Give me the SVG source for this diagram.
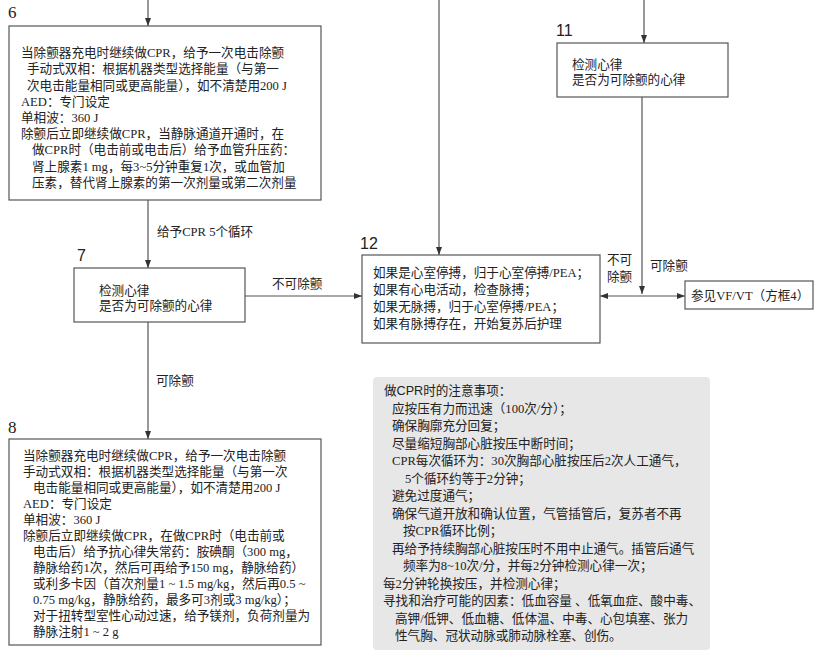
<svg xmlns="http://www.w3.org/2000/svg" width="821" height="661" viewBox="0 0 821 661">
<style>
.box{fill:#fff;stroke:#555;stroke-width:1.2}
.note{fill:#e7e7e7;stroke:none}
.t{font-family:'Liberation Serif','Noto Sans CJK SC',serif;font-size:12.6px;fill:#222}
.s{font-family:'Liberation Sans','Noto Sans CJK SC',sans-serif;font-size:12.6px;fill:#222}
.num{font-family:'Liberation Sans','Noto Sans CJK SC',sans-serif;font-size:16px;fill:#222}
.nums{font-family:'Liberation Serif','Noto Sans CJK SC',serif;font-size:17px;fill:#222}
.c{stroke:#555;stroke-width:1.2;fill:none}
</style>
<defs>
<marker id="ah" viewBox="0 0 8 6" refX="8" refY="3" markerWidth="8" markerHeight="6" markerUnits="userSpaceOnUse" orient="auto-start-reverse">
<path d="M0,0 L8,3 L0,6 Z" fill="#333"/>
</marker>
</defs>
<rect width="821" height="661" fill="#fff"/>
<g id="connectors">
<line class="c" x1="148" y1="0" x2="148" y2="26" marker-end="url(#ah)"/>
<line class="c" x1="148" y1="200" x2="148" y2="268" marker-end="url(#ah)"/>
<line class="c" x1="148" y1="322" x2="148" y2="439" marker-end="url(#ah)"/>
<line class="c" x1="245" y1="296" x2="362" y2="296" marker-end="url(#ah)"/>
<line class="c" x1="439" y1="0" x2="439" y2="255" marker-end="url(#ah)"/>
<line class="c" x1="644" y1="0" x2="644" y2="43" marker-end="url(#ah)"/>
<line class="c" x1="642" y1="97" x2="642" y2="294" marker-end="url(#ah)"/>
<line class="c" x1="600" y1="296" x2="685" y2="296" marker-start="url(#ah)" marker-end="url(#ah)"/>
<text class="t" x="157" y="236">给予CPR 5个循环</text>
<text class="t" x="272" y="288">不可除颤</text>
<text class="t" x="156" y="385">可除颤</text>
<text class="t" x="607" y="264">不可</text>
<text class="t" x="607" y="281">除颤</text>
<text class="t" x="650" y="270">可除颤</text>
</g>
<g id="node6">
<text class="nums" x="8" y="18">6</text>
<rect class="box" x="9" y="26" width="312" height="174"/>
<text class="t" x="21" y="57">当除颤器充电时继续做CPR，给予一次电击除颤</text>
<text class="t" x="27" y="73">手动式双相：根据机器类型选择能量（与第一</text>
<text class="t" x="27" y="90">次电击能量相同或更高能量），如不清楚用200 J</text>
<text class="t" x="21" y="106">AED：专门设定</text>
<text class="t" x="21" y="122">单相波：360 J</text>
<text class="t" x="21" y="138">除颤后立即继续做CPR，当静脉通道开通时，在</text>
<text class="t" x="32" y="154">做CPR时（电击前或电击后）给予血管升压药：</text>
<text class="t" x="32" y="171">肾上腺素1 mg，每3~5分钟重复1次，或血管加</text>
<text class="t" x="32" y="187">压素，替代肾上腺素的第一次剂量或第二次剂量</text>
</g>
<g id="node7">
<text class="num" x="77" y="261">7</text>
<rect class="box" x="74" y="268" width="171" height="54"/>
<text class="t" x="99" y="295">检测心律</text>
<text class="t" x="99" y="310">是否为可除颤的心律</text>
</g>
<g id="node8">
<text class="nums" x="8" y="433">8</text>
<rect class="box" x="9" y="439" width="312" height="206"/>
<text class="t" x="23" y="460">当除颤器充电时继续做CPR，给予一次电击除颤</text>
<text class="t" x="23" y="476">手动式双相：根据机器类型选择能量（与第一次</text>
<text class="t" x="33" y="492">电击能量相同或更高能量），如不清楚用200 J</text>
<text class="t" x="23" y="508">AED：专门设定</text>
<text class="t" x="23" y="524">单相波：360 J</text>
<text class="t" x="23" y="540">除颤后立即继续做CPR，在做CPR时（电击前或</text>
<text class="t" x="33" y="556">电击后）给予抗心律失常药：胺碘酮（300 mg，</text>
<text class="t" x="33" y="572">静脉给药1次，然后可再给予150 mg，静脉给药）</text>
<text class="t" x="33" y="588">或利多卡因（首次剂量1 ~ 1.5 mg/kg，然后再0.5 ~</text>
<text class="t" x="33" y="604">0.75 mg/kg，静脉给药，最多可3剂或3 mg/kg）；</text>
<text class="t" x="33" y="620">对于扭转型室性心动过速，给予镁剂，负荷剂量为</text>
<text class="t" x="33" y="636">静脉注射1 ~ 2 g</text>
</g>
<g id="node11">
<text class="num" x="556" y="36">11</text>
<rect class="box" x="557" y="43" width="171" height="54"/>
<text class="t" x="572" y="69">检测心律</text>
<text class="t" x="572" y="84">是否为可除颤的心律</text>
</g>
<g id="node12">
<text class="num" x="360" y="249">12</text>
<rect class="box" x="362" y="255" width="238" height="88"/>
<text class="t" x="373" y="277">如果是心室停搏，归于心室停搏/PEA；</text>
<text class="t" x="373" y="294">如果有心电活动，检查脉搏；</text>
<text class="t" x="373" y="311">如果无脉搏，归于心室停搏/PEA；</text>
<text class="t" x="373" y="328">如果有脉搏存在，开始复苏后护理</text>
</g>
<g id="nodeVF">
<rect class="box" x="685" y="281" width="128" height="28"/>
<text class="t" x="691" y="300">参见VF/VT（方框4）</text>
</g>
<g id="notes">
<rect class="note" x="373" y="377" width="337" height="273" rx="4"/>
<text class="s" x="384" y="395">做CPR时的注意事项：</text>
<text class="t" x="392" y="412.5">应按压有力而迅速（100次/分）；</text>
<text class="t" x="392" y="430">确保胸廓充分回复；</text>
<text class="t" x="392" y="447.5">尽量缩短胸部心脏按压中断时间；</text>
<text class="t" x="392" y="465">CPR每次循环为：30次胸部心脏按压后2次人工通气，</text>
<text class="t" x="405" y="482.5">5个循环约等于2分钟；</text>
<text class="t" x="392" y="500">避免过度通气；</text>
<text class="t" x="392" y="517.5">确保气道开放和确认位置，气管插管后，复苏者不再</text>
<text class="t" x="403" y="535">按CPR循环比例；</text>
<text class="t" x="392" y="552.5">再给予持续胸部心脏按压时不用中止通气。插管后通气</text>
<text class="t" x="403" y="570">频率为8~10次/分，并每2分钟检测心律一次；</text>
<text class="t" x="383" y="587.5">每2分钟轮换按压，并检测心律；</text>
<text class="t" x="383" y="605">寻找和治疗可能的因素：低血容量 、低氧血症、酸中毒、</text>
<text class="t" x="395" y="622.5">高钾/低钾、低血糖、低体温、中毒、心包填塞、张力</text>
<text class="t" x="395" y="640">性气胸、冠状动脉或肺动脉栓塞、创伤。</text>
</g>
</svg>
